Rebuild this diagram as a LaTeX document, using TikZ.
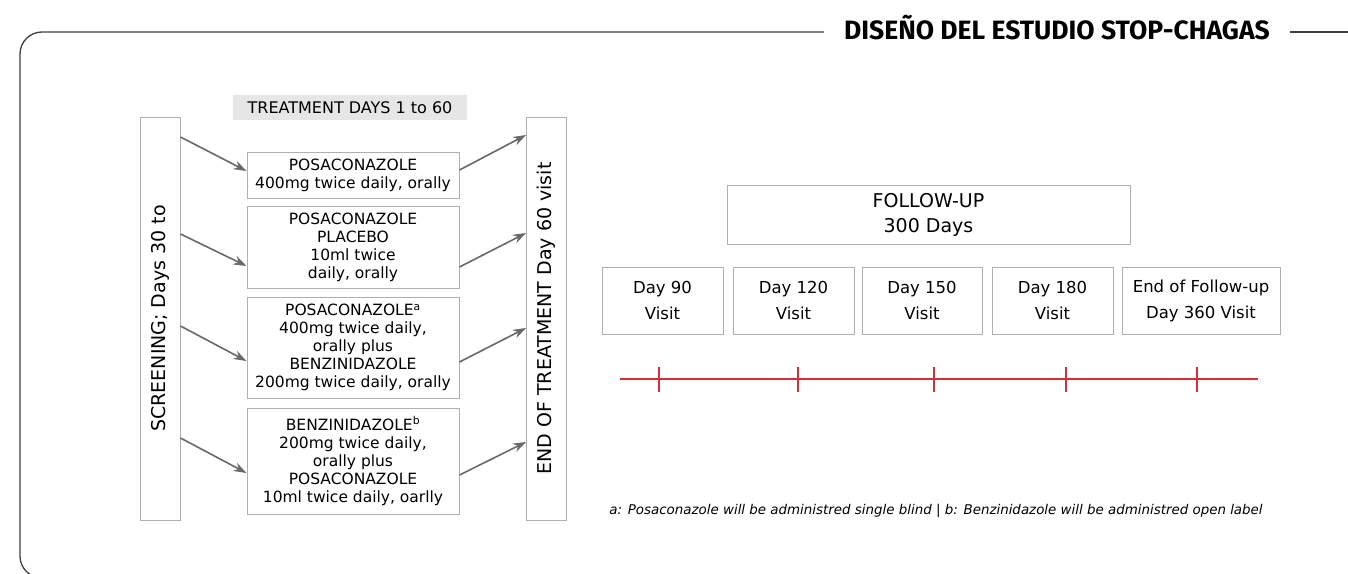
\documentclass[tikz,border=0pt]{standalone}
\usepackage{fontspec}
\setmainfont{DejaVu Sans}
\newfontfamily\titlefont{Fira Sans}
\usetikzlibrary{arrows.meta}
\definecolor{boxline}{RGB}{175,175,175}
\definecolor{flowgray}{RGB}{105,105,105}
\definecolor{headgray}{RGB}{230,230,230}
\definecolor{timered}{RGB}{215,45,55}

\tikzset{
  frameline/.style={draw=black!75, line width=1.3pt},
  armbox/.style={draw=boxline, line width=1pt, minimum width=212, inner sep=0pt,
    align=center, font=\fontsize{15.5}{18}\selectfont},
  sidebox/.style={draw=boxline, line width=1pt, minimum width=40, minimum height=403, inner sep=0pt},
  sidetext/.style={rotate=90, inner sep=0pt, font=\fontsize{19}{22}\selectfont},
  visitbox/.style={draw=boxline, line width=1pt, minimum height=67, inner sep=0pt,
    align=center, font=\fontsize{16.5}{26}\selectfont},
  flow/.style={-{Stealth[length=13pt,width=9pt]}, draw=flowgray, line width=1.6pt},
  timeline/.style={draw=timered, line width=1.5pt}
}

\begin{document}
\begin{tikzpicture}[x=1pt,y=-1pt]
  \useasboundingbox (0,0) rectangle (1348,573);
  \clip (0,0) rectangle (1348,573);

  % title and frame
  \node[inner sep=0pt, font=\titlefont\bfseries\fontsize{26.5}{30}\selectfont] (title) at (1057,28) {DISEÑO DEL ESTUDIO STOP-CHAGAS};
  \draw[frameline, rounded corners=22] ([xshift=-20]title.west |- 0,32) -- (20,32) -- (20,578) -- (300,578);
  \draw[frameline] ([xshift=20]title.east |- 0,32) -- (1348,32);

  % treatment phase
  \node[fill=headgray, minimum width=234, minimum height=25, inner sep=0pt, font=\fontsize{16}{18}\selectfont] (head) at (350,107.5) {TREATMENT DAYS 1 to 60};
  \node[sidebox] (scr) at (160,318.5) {};
  \node[sidetext] (scrtext) at (scr) {SCREENING; Days 30 to};
  \node[sidebox] (eot) at (546.5,318.5) {};
  \node[sidetext] (eottext) at (eot) {END OF TREATMENT Day 60 visit};

  \node[armbox, minimum height=46] (arm1) at (353,175) {POSACONAZOLE\\400mg twice daily, orally};
  \node[armbox, minimum height=82] (arm2) at (353,247) {POSACONAZOLE\\PLACEBO\\10ml twice\\daily, orally};
  \node[armbox, minimum height=101] (arm3) at (353,347.5) {POSACONAZOLE\textsuperscript{a}\\400mg twice daily,\\orally plus\\BENZINIDAZOLE\\200mg twice daily, orally};
  \node[armbox, minimum height=106] (arm4) at (353,461) {BENZINIDAZOLE\textsuperscript{b}\\200mg twice daily,\\orally plus\\POSACONAZOLE\\10ml twice daily, oarlly};

  \foreach \i/\ya/\yb/\yc/\yd in {1/137/171/170/135, 2/234/266/267/233, 3/326/361/362/328, 4/438/473/475/442}{
    \draw[flow] (scr.east |- 0,\ya) -- (arm\i.west |- 0,\yb);
    \draw[flow] (arm\i.east |- 0,\yc) -- (eot.west |- 0,\yd);
  }

  % follow-up phase
  \node[draw=boxline, line width=1pt, minimum width=403, minimum height=59, inner sep=0pt, align=center,
    font=\fontsize{19}{25}\selectfont] (fup) at (928.5,214.5) {FOLLOW-UP\\300 Days};
  \node[visitbox, minimum width=121] (v1) at (662.5,300.5) {Day 90\\Visit};
  \node[visitbox, minimum width=121] (v2) at (793.5,300.5) {Day 120\\Visit};
  \node[visitbox, minimum width=120] (v3) at (922,300.5) {Day 150\\Visit};
  \node[visitbox, minimum width=121] (v4) at (1052.5,300.5) {Day 180\\Visit};
  \node[visitbox, minimum width=158] (v5) at (1201,300.5) {End of Follow-up\\Day 360 Visit};

  % timeline
  \coordinate (tl0) at (620,379);
  \coordinate (tl1) at (1258,379);
  \draw[timeline] (tl0) -- (tl1);
  \foreach \tx in {659,798,934,1066,1197}
    \draw[timeline] (\tx,367) -- (\tx,392);

  \node[font=\itshape\fontsize{13.4}{15}\selectfont, inner sep=0pt] (note) at (936,511)
    {a: Posaconazole will be administred single blind | b: Benzinidazole will be administred open label};
\end{tikzpicture}
\end{document}
